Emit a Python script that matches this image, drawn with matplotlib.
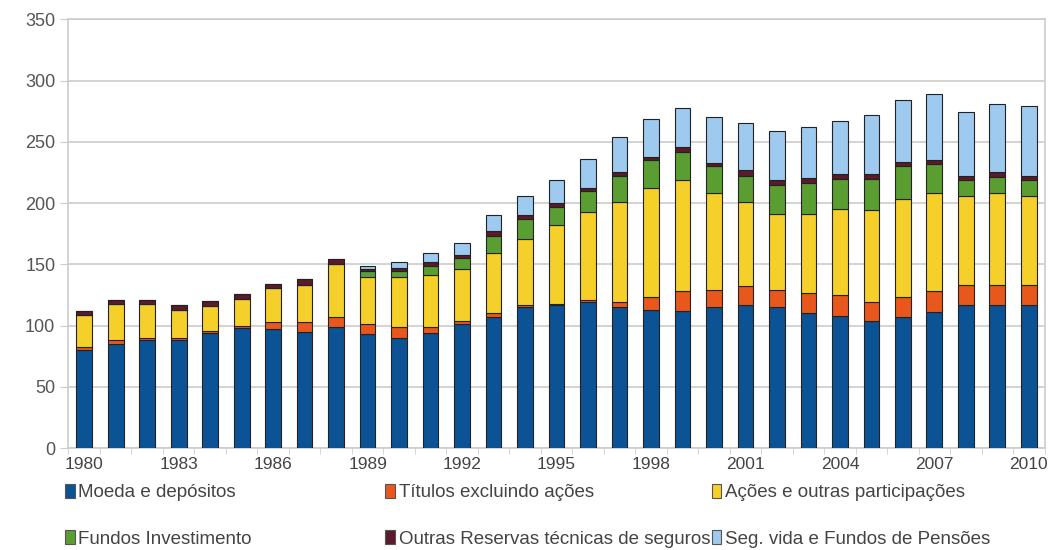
import numpy as np
import matplotlib.pyplot as plt
from matplotlib.patches import Patch

plt.rcParams['font.family'] = ['Liberation Sans', 'DejaVu Sans']

anos = list(range(1980, 2011))

moeda = [80, 85, 88, 88, 94, 98, 97, 95, 99, 93, 90, 94, 101, 107, 115.5, 116.5,
         119, 115.5, 113, 112, 115, 116.5, 115, 110, 108, 104, 107, 111, 116.5, 116.5, 116.5]
titulos = [3, 3, 2, 2, 2, 2, 6, 8, 8, 8, 9, 5, 3, 3, 1.5, 1.5,
           2, 3.5, 10, 16, 14, 15.5, 14, 16.5, 17, 15, 16, 17, 16.5, 16.5, 16.5]
acoes = [26, 30, 28, 23, 20, 22, 28, 30, 43, 39, 41, 42, 42, 49.5, 54, 64,
         72, 82, 89, 91, 79, 69, 62, 64.5, 70.5, 75, 80, 80, 73, 75, 73]
fundos = [0, 0, 0, 0, 0, 0, 0, 0, 0, 4.5, 5, 8, 9, 14, 16, 15,
          16.5, 21, 23, 23, 22, 21.5, 23.5, 25.5, 24.5, 26, 27, 23.5, 12.5, 13, 12.5]
outras = [3, 3, 3, 4, 4, 4, 3, 5, 4, 2, 2, 3, 2.5, 3.5, 3, 3,
          2.5, 3, 3, 4, 3, 4.5, 4, 4, 4, 4, 3.5, 4, 4, 4, 4]
seg_vida = [0, 0, 0, 0, 0, 0, 0, 0, 0, 2.5, 5, 7.5, 10, 13, 16, 19,
            24, 29, 30.5, 32, 37, 38, 40, 41.5, 43, 48, 51, 53.5, 52, 55.5, 57]

series = [moeda, titulos, acoes, fundos, outras, seg_vida]
nomes = ["Moeda e depósitos", "Títulos excluindo ações", "Ações e outras participações",
         "Fundos Investimento", "Outras Reservas técnicas de seguros", "Seg. vida e Fundos de Pensões"]
cores = ["#0B5394", "#E8581C", "#F5CF2A", "#5A9E32", "#5C1A2C", "#9DCAEE"]

fig = plt.figure(figsize=(10.53, 5.5), dpi=100)
ax = fig.add_axes([0.065, 0.185, 0.927, 0.78])

base = np.zeros(len(anos))
for vals, cor in zip(series, cores):
    ax.bar(anos, vals, bottom=base, width=0.5, color=cor, edgecolor="#222222", linewidth=0.8, zorder=3)
    base += np.array(vals)

ax.set_ylim(0, 350)
ax.set_yticks(range(0, 351, 50))
ax.set_xlim(1979.5, 2010.5)
ax.set_xticks(range(1980, 2011, 3))
ax.set_xticks(np.arange(1979.5, 2010.6, 1), minor=True)
ax.grid(axis="y", color="#cccccc", linewidth=1.2, zorder=0)
for s in ax.spines.values():
    s.set_color("#cccccc")
    s.set_linewidth(1.2)
ax.tick_params(axis="y", length=6, color="#cccccc", labelsize=13, labelcolor="#555555")
ax.tick_params(axis="x", which="major", length=0, labelsize=12.5, labelcolor="#444444", pad=6)
ax.tick_params(axis="x", which="minor", length=4, color="#cccccc")

handles = [Patch(facecolor=c, edgecolor="#555555", linewidth=0.8) for c in cores]
colunas_x = [0.062, 0.366, 0.676]
for i, x in enumerate(colunas_x):
    leg = fig.legend([handles[i], handles[i + 3]], [nomes[i], nomes[i + 3]],
                     loc="upper left", bbox_to_anchor=(x, 0.12), frameon=False,
                     handlelength=0.5, handleheight=0.75, handletextpad=0.2,
                     labelspacing=1.55, borderaxespad=0, borderpad=0,
                     prop={"size": 13.5})
    for t in leg.get_texts():
        t.set_color("#444444")

fig.savefig("out.png", dpi=100)
